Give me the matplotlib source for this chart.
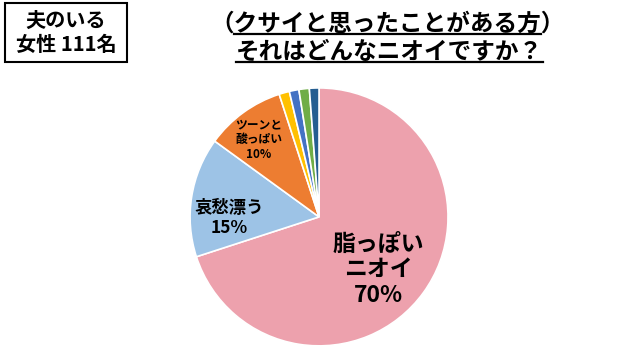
import matplotlib
matplotlib.use("Agg")
import matplotlib.pyplot as plt
from matplotlib.lines import Line2D
from matplotlib.patches import Rectangle

plt.rcParams['font.family'] = ['Noto Sans CJK JP', 'DejaVu Sans']

# データ
labels = ["脂っぽい\nニオイ\n70%", "哀愁漂う\n15%", "ツーンと\n酸っぱい\n10%", "", "", "", ""]
values = [70, 15, 10, 1.3, 1.2, 1.3, 1.2]
colors = ["#EDA1AD", "#9DC3E6", "#ED7D31", "#FFC000", "#4472C4", "#70AD47", "#255E91"]
label_pos = [(0.46, -0.41), (-0.70, -0.01), (-0.47, 0.60)]
label_size = [16.5, 12.5, 8.5]

title1 = "（クサイと思ったことがある方）"
title2 = "それはどんなニオイですか？"
box_text = "夫のいる\n女性 111名"

fig = plt.figure(figsize=(6.4, 3.6), dpi=100)
fig.patch.set_facecolor("white")

ax = fig.add_axes([0.297, 0.039, 0.403, 0.717])
ax.pie(values, colors=colors, startangle=90, counterclock=False,
       wedgeprops=dict(edgecolor="white", linewidth=1.2))
ax.set_xlim(-1, 1)
ax.set_ylim(-1, 1)
ax.set_aspect("equal")

for txt, (x, y), fs in zip(labels, label_pos, label_size):
    ax.text(x, y, txt, ha="center", va="center", fontsize=fs,
            fontweight="bold", linespacing=1.15)

# タイトル
t1 = fig.text(0.606, 0.935, title1, ha="center", va="center",
              fontsize=17, fontweight="bold")
t2 = fig.text(0.609, 0.857, title2, ha="center", va="center",
              fontsize=17, fontweight="bold")

# 左上の枠
fig.text(0.103, 0.909, box_text, ha="center", va="center", fontsize=14.5,
         fontweight="bold", linespacing=1.2)
fig.patches.append(Rectangle((5 / 640, 1 - 62 / 360), 122 / 640, 59 / 360,
                             transform=fig.transFigure, fill=False,
                             edgecolor="black", linewidth=1.5))

# 下線
fig.canvas.draw()
r = fig.canvas.get_renderer()
inv = fig.transFigure.inverted()
b1 = t1.get_window_extent(r)
b2 = t2.get_window_extent(r)
w1 = b1.width / len(title1)
(x0, y0) = inv.transform((b1.x0 + w1, b1.y0 + 1))
(x1, _) = inv.transform((b1.x1 - w1, b1.y0))
fig.lines.append(Line2D([x0, x1], [y0, y0], transform=fig.transFigure,
                        color="black", linewidth=1.6))
(x0, y0) = inv.transform((b2.x0, b2.y0 + 1))
(x1, _) = inv.transform((b2.x1, b2.y0))
fig.lines.append(Line2D([x0, x1], [y0, y0], transform=fig.transFigure,
                        color="black", linewidth=1.6))

fig.savefig("out.png", dpi=100, facecolor="white")
